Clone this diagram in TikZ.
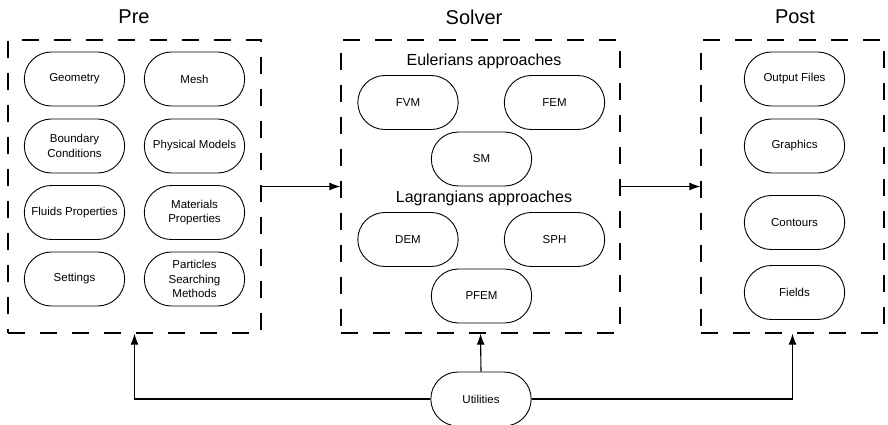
\documentclass[tikz,border=0pt]{standalone}
\usepackage{fontspec}
\setmainfont{Liberation Sans}
\usetikzlibrary{shapes.misc,arrows.meta,positioning}

\tikzset{
  stage/.style={draw, line width=1.3pt, dash pattern=on 17pt off 15pt,
    minimum height=293pt},
  pill/.style={draw, rounded rectangle, line width=0.9pt, align=center,
    minimum width=107pt, minimum height=54pt,
    font=\fontsize{11.5}{14.5}\selectfont},
  stagetitle/.style={font=\fontsize{20}{24}\selectfont},
  subtitle/.style={font=\fontsize{16}{19}\selectfont},
  flow/.style={-{Latex[length=11pt,width=8pt]}, line width=1.1pt},
}

\begin{document}
\begin{tikzpicture}[x=1pt,y=-1pt]
\useasboundingbox (0,0) rectangle (888,425);

% 枠
\node[stage, minimum width=253pt] (pre) at (134.5,186.5) {};
\node[stage, minimum width=279pt] (solver) at (480.5,186.5) {};
\node[stage, minimum width=183pt] (post) at (792.5,186.5) {};

\node[stagetitle] (preT) at (134,17) {Pre};
\node[stagetitle] (solverT) at (474,17) {Solver};
\node[stagetitle] (postT) at (795,17) {Post};

% Pre
\node[pill] (geom) at (74.5,79) {Geometry};
\node[pill] (mesh) at (194.5,79) {Mesh};
\node[pill] (bc) at (74.5,146) {Boundary\\Conditions};
\node[pill] (phys) at (194.5,146) {Physical Models};
\node[pill] (fluid) at (74.5,212.5) {Fluids Properties};
\node[pill] (mat) at (194.5,212.5) {Materials\\Properties};
\node[pill] (sett) at (74.5,279) {Settings};
\node[pill] (search) at (194.5,279) {Particles\\Searching\\Methods};

% Solver
\node[subtitle] (euler) at (484,61) {Eulerians approaches};
\node[pill] (fvm) at (408,102.5) {FVM};
\node[pill] (fem) at (554.5,102.5) {FEM};
\node[pill] (sm) at (481.5,159) {SM};
\node[subtitle] (lagr) at (484,198) {Lagrangians approaches};
\node[pill] (dem) at (408,239.5) {DEM};
\node[pill] (sph) at (554.5,239.5) {SPH};
\node[pill] (pfem) at (481.5,296) {PFEM};

% Post
\node[pill] (out) at (794.5,79) {Output Files};
\node[pill] (graph) at (794.5,146) {Graphics};
\node[pill] (cont) at (794.5,222.5) {Contours};
\node[pill] (field) at (794.5,292.5) {Fields};

% Utilities
\node[pill] (util) at (481,399) {Utilities};

% 矢印
\draw[flow] (pre.east) -- (solver.west);
\draw[flow] (solver.east) -- (post.west);
\draw[flow] (util.north) -- (solver.south);
\draw[flow] (util.west) -| (pre.south);
\draw[flow] (util.east) -| (post.south);
\end{tikzpicture}
\end{document}
